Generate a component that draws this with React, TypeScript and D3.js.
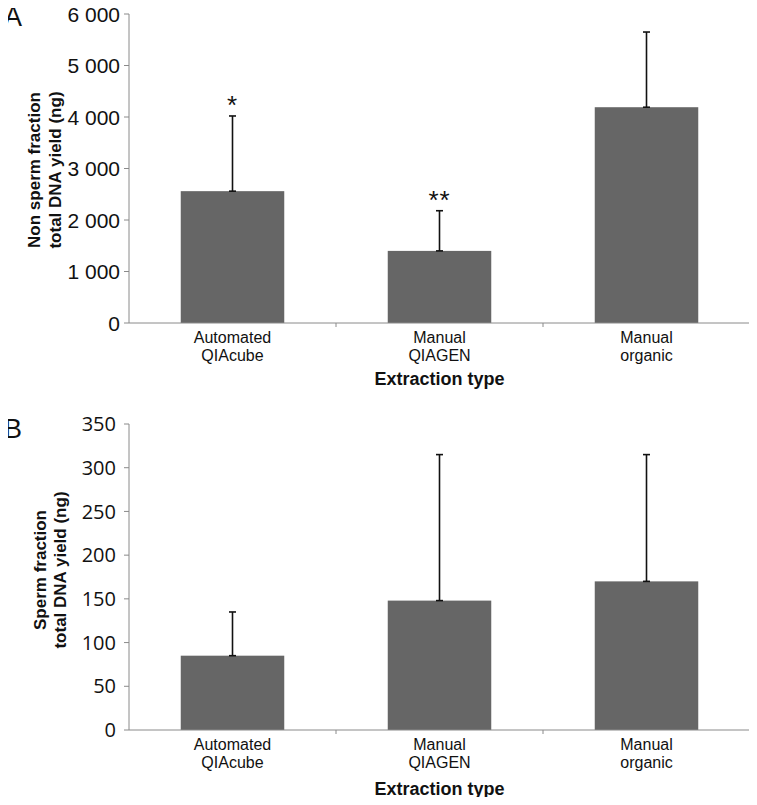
import React from "react";
import * as d3 from "d3";

const categories = ["Automated\nQIAcube", "Manual\nQIAGEN", "Manual\norganic"];
const nonSpermMean = [2560, 1400, 4190];
const nonSpermErr = [4020, 2180, 5650];
const nonSpermMarks = ["*", "**", ""];
const nonSpermTicks = [0, 1000, 2000, 3000, 4000, 5000, 6000];
const spermMean = [85, 148, 170];
const spermErr = [135, 315, 315];
const spermTicks = [0, 50, 100, 150, 200, 250, 300, 350];

const fmtSpace = (v: number) => (v >= 1000 ? d3.format(",")(v).replace(/,/g, " ") : String(v));

const ARIAL = "Arial, 'Liberation Sans', sans-serif";

type PanelProps = {
  letter: string;
  top: number;
  bottom: number;
  max: number;
  ticks: number[];
  means: number[];
  errs: number[];
  marks: string[];
  titleLines: string[];
  tickFont: string;
  tickSize: number;
  tickAnchorX: number;
  fmt: (v: number) => string;
  titleX: number[];
  titleY: number;
  letterY: number;
  xTitleDy: number;
};

function Panel(p: PanelProps) {
  const x = d3.scaleBand<string>().domain(categories).range([129, 750]).paddingInner(0).paddingOuter(0);
  const y = d3.scaleLinear().domain([0, p.max]).range([p.bottom, p.top]);
  const bw = x.bandwidth() / 2;
  return (
    <g>
      <text x={4} y={p.letterY} fontFamily={ARIAL} fontSize={27} fill="#111">{p.letter}</text>
      {p.ticks.map((t) => (
        <g key={t}>
          <line x1={124} x2={129} y1={y(t)} y2={y(t)} stroke="#8a8a8a" strokeWidth={1} />
          <text x={p.tickAnchorX} y={y(t)} dy="0.36em" textAnchor="end" fontFamily={p.tickFont} fontSize={p.tickSize} fill="#111">{p.fmt(t)}</text>
        </g>
      ))}
      {categories.map((c, i) => {
        const cx = (x(c) as number) + x.bandwidth() / 2;
        const lines = c.split("\n");
        return (
          <g key={c}>
            <rect x={cx - bw / 2} y={y(p.means[i])} width={bw} height={p.bottom - y(p.means[i])} fill="#666666" />
            <line x1={cx} x2={cx} y1={y(p.means[i])} y2={y(p.errs[i])} stroke="#111" strokeWidth={1.6} />
            <line x1={cx - 3.5} x2={cx + 3.5} y1={y(p.errs[i])} y2={y(p.errs[i])} stroke="#111" strokeWidth={1.6} />
            <line x1={cx - 3.5} x2={cx + 3.5} y1={y(p.means[i])} y2={y(p.means[i])} stroke="#111" strokeWidth={1.6} />
            {p.marks[i] ? (
              <text x={cx} y={y(p.errs[i]) - 2} textAnchor="middle" fontFamily={ARIAL} fontSize={26} fill="#111" letterSpacing={1}>{p.marks[i]}</text>
            ) : null}
            {lines.map((l, j) => (
              <text key={j} x={cx} y={p.bottom + 20 + j * 17.5} textAnchor="middle" fontFamily={ARIAL} fontSize={16} fill="#111">{l}</text>
            ))}
          </g>
        );
      })}
      <line x1={129} x2={129} y1={p.top} y2={p.bottom} stroke="#8a8a8a" strokeWidth={1} />
      <line x1={129} x2={750} y1={p.bottom} y2={p.bottom} stroke="#8a8a8a" strokeWidth={1} />
      {[336, 543, 750].map((tx) => (
        <line key={tx} x1={tx} x2={tx} y1={p.bottom} y2={p.bottom + 4} stroke="#8a8a8a" strokeWidth={1} />
      ))}
      <text x={439.5} y={p.bottom + p.xTitleDy} textAnchor="middle" fontFamily={ARIAL} fontWeight="bold" fontSize={18} fill="#111">Extraction type</text>
      {p.titleLines.map((l, j) => (
        <text key={j} transform={`translate(${p.titleX[j]},${p.titleY}) rotate(-90)`} textAnchor="middle" fontFamily={ARIAL} fontWeight="bold" fontSize={17} fill="#111">{l}</text>
      ))}
    </g>
  );
}

export default function App() {
  return (
    <svg width={757} height={805} style={{ display: "block", margin: "-8px", background: "#fff" }}>
      <rect width={757} height={805} fill="#fff" />
      <Panel
        letter="A"
        letterY={26}
        top={14}
        bottom={323}
        max={6000}
        ticks={nonSpermTicks}
        means={nonSpermMean}
        errs={nonSpermErr}
        marks={nonSpermMarks}
        titleLines={["Non sperm fraction", "total DNA yield (ng)"]}
        tickFont={ARIAL}
        tickSize={21}
        tickAnchorX={120}
        fmt={fmtSpace}
        titleX={[40, 61]}
        titleY={170}
        xTitleDy={62}
      />
      <Panel
        letter="B"
        letterY={438}
        top={424}
        bottom={730}
        max={350}
        ticks={spermTicks}
        means={spermMean}
        errs={spermErr}
        marks={["", "", ""]}
        titleLines={["Sperm fraction", "total DNA yield (ng)"]}
        tickFont="'Open Sans', sans-serif"
        tickSize={20}
        tickAnchorX={116}
        fmt={(v) => String(v)}
        titleX={[46, 66]}
        titleY={570}
        xTitleDy={65}
      />
    </svg>
  );
}
